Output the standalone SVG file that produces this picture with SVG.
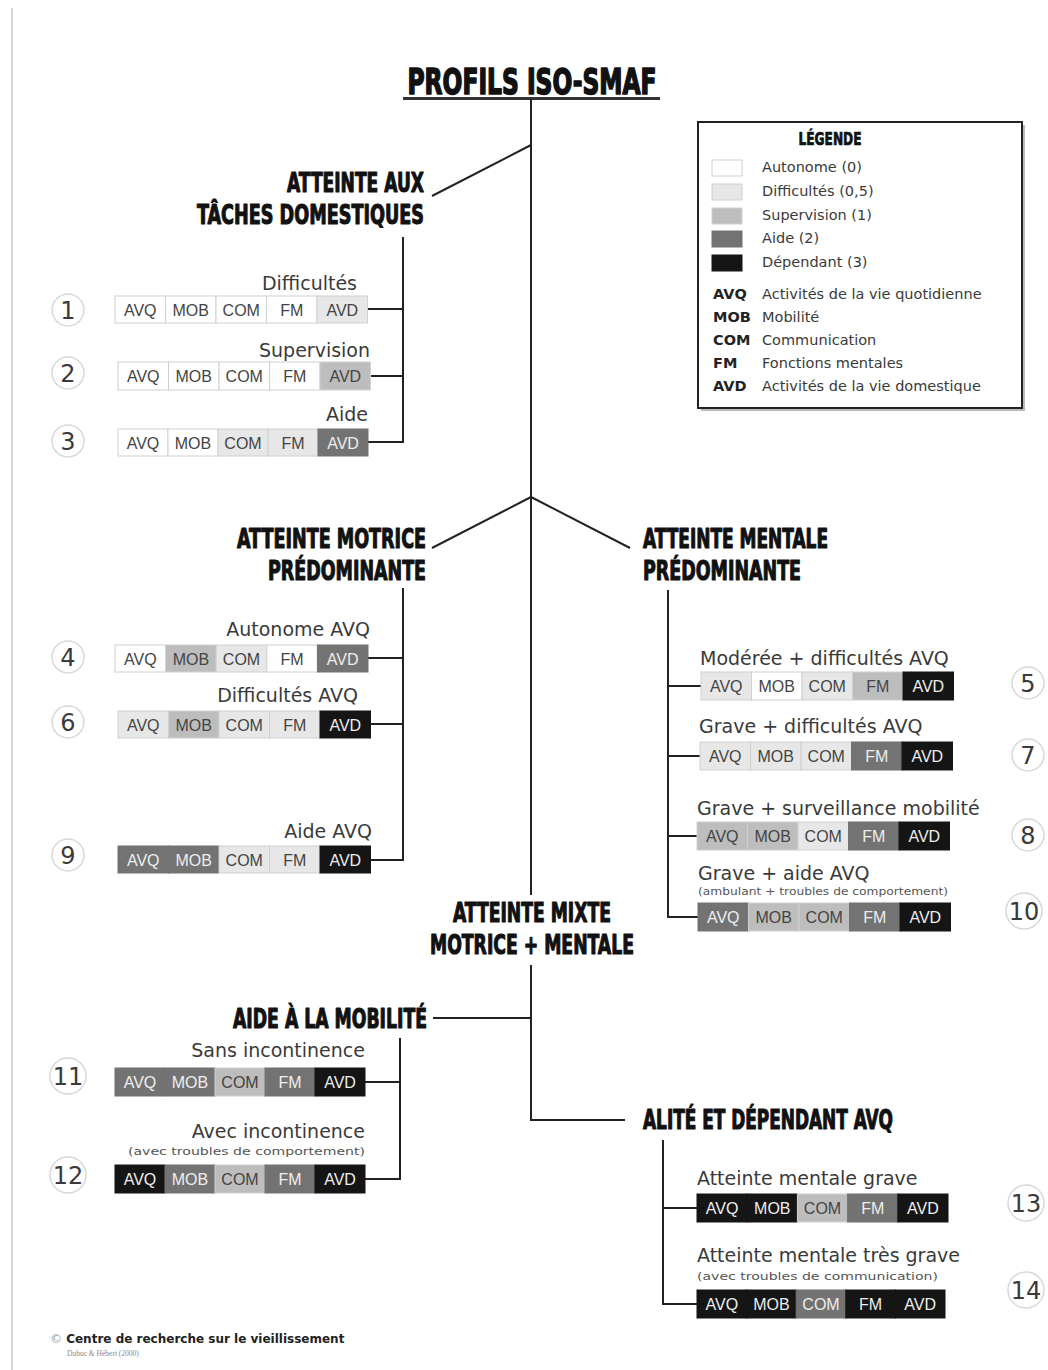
<svg xmlns="http://www.w3.org/2000/svg" width="1048" height="1370" viewBox="0 0 1048 1370">
  <style>
    .head { font-family: "DejaVu Sans Condensed", "DejaVu Sans", sans-serif; font-weight: bold; fill: #111; stroke: #111; stroke-width: 1.1px; stroke-linejoin: round; }
    .lbl { font-family: "DejaVu Sans", sans-serif; font-size: 19px; fill: #3a3a3a; }
    .sub { font-family: "DejaVu Sans", sans-serif; font-size: 11px; fill: #555; }
    .num { font-family: "DejaVu Sans", sans-serif; font-size: 24px; fill: #3a3a3a; text-anchor: middle; }
    .ring { fill: #fff; stroke: #d8d8d8; stroke-width: 1.5; }
    .cell { stroke: #d0d0d0; stroke-width: 1; }
    .c0 { fill: #ffffff; }
    .c1 { fill: #e7e7e7; }
    .c2 { fill: #bdbdbd; }
    .c3 { fill: #737373; stroke: #737373; }
    .c4 { fill: #151515; stroke: #151515; }
    .ct { font-family: "Liberation Sans", Arial, sans-serif; font-size: 16px; text-anchor: middle; }
    .td { fill: #444; }
    .tl { fill: #eeeeee; }
    .wire { fill: none; stroke: #222; stroke-width: 2; }
    .leg { font-family: "DejaVu Sans", sans-serif; font-size: 14.5px; fill: #3a3a3a; }
    .legb { font-family: "DejaVu Sans", sans-serif; font-size: 14.5px; font-weight: bold; fill: #222; }
  </style>

  <!-- page edge -->
  <line x1="12" y1="8" x2="12" y2="1370" stroke="#d6d6d6" stroke-width="2"/>

  <!-- title -->
  <g id="title">
    <text class="head" x="532" y="94" font-size="36" text-anchor="middle" textLength="249" lengthAdjust="spacingAndGlyphs" style="stroke-width:1.6px">PROFILS ISO-SMAF</text>
    <line x1="403" y1="98.5" x2="660" y2="98.5" stroke="#333" stroke-width="3"/>
  </g>

  <!-- connectors -->
  <g id="connectors" class="wire">
    <path d="M531 99 V895"/>
    <path d="M531 965 V1120 H625"/>
    <path d="M531 145 L432 196"/>
    <path d="M531 497 L432 548"/>
    <path d="M531 497 L630 548"/>
    <path d="M433 1018 H531"/>
    <!-- tâches domestiques -->
    <path d="M403 237 V442 H368"/>
    <path d="M367 309 H403"/>
    <path d="M370 376 H403"/>
    <!-- motrice -->
    <path d="M403 588 V860 H370"/>
    <path d="M368 658 H403"/>
    <path d="M370 724 H403"/>
    <!-- mentale -->
    <path d="M668 590 V917 H698"/>
    <path d="M668 686 H701"/>
    <path d="M668 756 H700"/>
    <path d="M668 836 H697"/>
    <!-- aide à la mobilité -->
    <path d="M400 1038 V1179 H365"/>
    <path d="M365 1082 H400"/>
    <!-- alité -->
    <path d="M663 1140 V1304 H697"/>
    <path d="M663 1208 H697"/>
  </g>

  <!-- legend -->
  <g id="legend">
    <rect x="701" y="125" width="324" height="286" fill="#bbb"/>
    <rect x="698" y="122" width="324" height="286" fill="#fff" stroke="#222" stroke-width="2"/>
    <text class="head" x="830" y="145" font-size="17" text-anchor="middle" textLength="63" lengthAdjust="spacingAndGlyphs" style="stroke-width:0.7px">LÉGENDE</text>
    <rect class="cell c0" x="712" y="160" width="30" height="16"/>
    <rect class="cell c1" x="712" y="184" width="30" height="16"/>
    <rect class="cell c2" x="712" y="208" width="30" height="16"/>
    <rect class="cell c3" x="712" y="231" width="30" height="16"/>
    <rect class="cell c4" x="712" y="255" width="30" height="16"/>
    <text class="leg" x="762" y="172">Autonome (0)</text>
    <text class="leg" x="762" y="196">Difficultés (0,5)</text>
    <text class="leg" x="762" y="220">Supervision (1)</text>
    <text class="leg" x="762" y="243">Aide (2)</text>
    <text class="leg" x="762" y="267">Dépendant (3)</text>
    <text class="legb" x="713" y="299">AVQ</text>
    <text class="legb" x="713" y="322">MOB</text>
    <text class="legb" x="713" y="345">COM</text>
    <text class="legb" x="713" y="368">FM</text>
    <text class="legb" x="713" y="391">AVD</text>
    <text class="leg" x="762" y="299">Activités de la vie quotidienne</text>
    <text class="leg" x="762" y="322">Mobilité</text>
    <text class="leg" x="762" y="345">Communication</text>
    <text class="leg" x="762" y="368">Fonctions mentales</text>
    <text class="leg" x="762" y="391">Activités de la vie domestique</text>
  </g>

  <!-- group headings -->
  <g id="grp-domestique">
    <text class="head" x="424" y="192" font-size="27" text-anchor="end" textLength="137" lengthAdjust="spacingAndGlyphs">ATTEINTE AUX</text>
    <text class="head" x="424" y="224" font-size="27" text-anchor="end" textLength="227" lengthAdjust="spacingAndGlyphs">TÂCHES DOMESTIQUES</text>
  </g>
  <g id="grp-motrice">
    <text class="head" x="426" y="548" font-size="27" text-anchor="end" textLength="189" lengthAdjust="spacingAndGlyphs">ATTEINTE MOTRICE</text>
    <text class="head" x="426" y="580" font-size="27" text-anchor="end" textLength="158" lengthAdjust="spacingAndGlyphs">PRÉDOMINANTE</text>
  </g>
  <g id="grp-mentale">
    <text class="head" x="643" y="548" font-size="27" textLength="185" lengthAdjust="spacingAndGlyphs">ATTEINTE MENTALE</text>
    <text class="head" x="643" y="580" font-size="27" textLength="158" lengthAdjust="spacingAndGlyphs">PRÉDOMINANTE</text>
  </g>
  <g id="grp-mixte">
    <text class="head" x="532" y="922" font-size="27" text-anchor="middle" textLength="158" lengthAdjust="spacingAndGlyphs">ATTEINTE MIXTE</text>
    <text class="head" x="532" y="954" font-size="27" text-anchor="middle" textLength="204" lengthAdjust="spacingAndGlyphs">MOTRICE + MENTALE</text>
  </g>
  <g id="grp-mobilite">
    <text class="head" x="427" y="1028" font-size="27" text-anchor="end" textLength="194" lengthAdjust="spacingAndGlyphs">AIDE À LA MOBILITÉ</text>
  </g>
  <g id="grp-alite">
    <text class="head" x="643" y="1129" font-size="27" textLength="250" lengthAdjust="spacingAndGlyphs">ALITÉ ET DÉPENDANT AVQ</text>
  </g>

  <!-- profile 1 -->
  <g id="profil-1">
    <text class="lbl" x="357" y="290" text-anchor="end">Difficultés</text>
    <circle class="ring" cx="68" cy="310" r="16"/><text class="num" x="68" y="319">1</text>
    <g transform="translate(115,296)">
      <rect class="cell c0" x="0" width="50.5" height="27"/><rect class="cell c0" x="50.5" width="50.5" height="27"/><rect class="cell c0" x="101" width="50.5" height="27"/><rect class="cell c0" x="151.5" width="50.5" height="27"/><rect class="cell c1" x="202" width="50.5" height="27"/>
      <text class="ct td" x="25.25" y="19.5">AVQ</text><text class="ct td" x="75.75" y="19.5">MOB</text><text class="ct td" x="126.25" y="19.5">COM</text><text class="ct td" x="176.75" y="19.5">FM</text><text class="ct td" x="227.25" y="19.5">AVD</text>
    </g>
  </g>

  <!-- profile 2 -->
  <g id="profil-2">
    <text class="lbl" x="370" y="357" text-anchor="end">Supervision</text>
    <circle class="ring" cx="68" cy="373" r="16"/><text class="num" x="68" y="382">2</text>
    <g transform="translate(118,362)">
      <rect class="cell c0" x="0" width="50.5" height="28"/><rect class="cell c0" x="50.5" width="50.5" height="28"/><rect class="cell c0" x="101" width="50.5" height="28"/><rect class="cell c0" x="151.5" width="50.5" height="28"/><rect class="cell c2" x="202" width="50.5" height="28"/>
      <text class="ct td" x="25.25" y="20">AVQ</text><text class="ct td" x="75.75" y="20">MOB</text><text class="ct td" x="126.25" y="20">COM</text><text class="ct td" x="176.75" y="20">FM</text><text class="ct td" x="227.25" y="20">AVD</text>
    </g>
  </g>

  <!-- profile 3 -->
  <g id="profil-3">
    <text class="lbl" x="368" y="421" text-anchor="end">Aide</text>
    <circle class="ring" cx="68" cy="441" r="16"/><text class="num" x="68" y="450">3</text>
    <g transform="translate(118,429)">
      <rect class="cell c0" x="0" width="50" height="27"/><rect class="cell c0" x="50" width="50" height="27"/><rect class="cell c1" x="100" width="50" height="27"/><rect class="cell c1" x="150" width="50" height="27"/><rect class="cell c3" x="200" width="50" height="27"/>
      <text class="ct td" x="25" y="19.5">AVQ</text><text class="ct td" x="75" y="19.5">MOB</text><text class="ct td" x="125" y="19.5">COM</text><text class="ct td" x="175" y="19.5">FM</text><text class="ct tl" x="225" y="19.5">AVD</text>
    </g>
  </g>

  <!-- profile 4 -->
  <g id="profil-4">
    <text class="lbl" x="370" y="636" text-anchor="end">Autonome AVQ</text>
    <circle class="ring" cx="68" cy="657" r="16"/><text class="num" x="68" y="666">4</text>
    <g transform="translate(115,645)">
      <rect class="cell c0" x="0" width="50.6" height="27"/><rect class="cell c2" x="50.6" width="50.6" height="27"/><rect class="cell c1" x="101.2" width="50.6" height="27"/><rect class="cell c0" x="151.8" width="50.6" height="27"/><rect class="cell c3" x="202.4" width="50.6" height="27"/>
      <text class="ct td" x="25.3" y="19.5">AVQ</text><text class="ct td" x="75.9" y="19.5">MOB</text><text class="ct td" x="126.5" y="19.5">COM</text><text class="ct td" x="177.1" y="19.5">FM</text><text class="ct tl" x="227.7" y="19.5">AVD</text>
    </g>
  </g>

  <!-- profile 6 -->
  <g id="profil-6">
    <text class="lbl" x="358" y="702" text-anchor="end">Difficultés AVQ</text>
    <circle class="ring" cx="68" cy="722" r="16"/><text class="num" x="68" y="731">6</text>
    <g transform="translate(118,711)">
      <rect class="cell c1" x="0" width="50.5" height="27"/><rect class="cell c2" x="50.5" width="50.5" height="27"/><rect class="cell c1" x="101" width="50.5" height="27"/><rect class="cell c1" x="151.5" width="50.5" height="27"/><rect class="cell c4" x="202" width="50.5" height="27"/>
      <text class="ct td" x="25.25" y="19.5">AVQ</text><text class="ct td" x="75.75" y="19.5">MOB</text><text class="ct td" x="126.25" y="19.5">COM</text><text class="ct td" x="176.75" y="19.5">FM</text><text class="ct tl" x="227.25" y="19.5">AVD</text>
    </g>
  </g>

  <!-- profile 9 -->
  <g id="profil-9">
    <text class="lbl" x="372" y="838" text-anchor="end">Aide AVQ</text>
    <circle class="ring" cx="68" cy="855" r="16"/><text class="num" x="68" y="864">9</text>
    <g transform="translate(118,846)">
      <rect class="cell c3" x="0" width="50.5" height="27"/><rect class="cell c3" x="50.5" width="50.5" height="27"/><rect class="cell c1" x="101" width="50.5" height="27"/><rect class="cell c1" x="151.5" width="50.5" height="27"/><rect class="cell c4" x="202" width="50.5" height="27"/>
      <text class="ct tl" x="25.25" y="19.5">AVQ</text><text class="ct tl" x="75.75" y="19.5">MOB</text><text class="ct td" x="126.25" y="19.5">COM</text><text class="ct td" x="176.75" y="19.5">FM</text><text class="ct tl" x="227.25" y="19.5">AVD</text>
    </g>
  </g>

  <!-- profile 5 -->
  <g id="profil-5">
    <text class="lbl" x="700" y="665">Modérée + difficultés AVQ</text>
    <circle class="ring" cx="1028" cy="683" r="16"/><text class="num" x="1028" y="692">5</text>
    <g transform="translate(701,672)">
      <rect class="cell c1" x="0" width="50.5" height="28"/><rect class="cell c0" x="50.5" width="50.5" height="28"/><rect class="cell c1" x="101" width="50.5" height="28"/><rect class="cell c2" x="151.5" width="50.5" height="28"/><rect class="cell c4" x="202" width="50.5" height="28"/>
      <text class="ct td" x="25.25" y="20">AVQ</text><text class="ct td" x="75.75" y="20">MOB</text><text class="ct td" x="126.25" y="20">COM</text><text class="ct td" x="176.75" y="20">FM</text><text class="ct tl" x="227.25" y="20">AVD</text>
    </g>
  </g>

  <!-- profile 7 -->
  <g id="profil-7">
    <text class="lbl" x="699" y="733">Grave + difficultés AVQ</text>
    <circle class="ring" cx="1028" cy="755" r="16"/><text class="num" x="1028" y="764">7</text>
    <g transform="translate(700,742)">
      <rect class="cell c1" x="0" width="50.5" height="28"/><rect class="cell c1" x="50.5" width="50.5" height="28"/><rect class="cell c1" x="101" width="50.5" height="28"/><rect class="cell c3" x="151.5" width="50.5" height="28"/><rect class="cell c4" x="202" width="50.5" height="28"/>
      <text class="ct td" x="25.25" y="20">AVQ</text><text class="ct td" x="75.75" y="20">MOB</text><text class="ct td" x="126.25" y="20">COM</text><text class="ct tl" x="176.75" y="20">FM</text><text class="ct tl" x="227.25" y="20">AVD</text>
    </g>
  </g>

  <!-- profile 8 -->
  <g id="profil-8">
    <text class="lbl" x="697" y="815">Grave + surveillance mobilité</text>
    <circle class="ring" cx="1028" cy="835" r="16"/><text class="num" x="1028" y="844">8</text>
    <g transform="translate(697,822)">
      <rect class="cell c2" x="0" width="50.5" height="28"/><rect class="cell c2" x="50.5" width="50.5" height="28"/><rect class="cell c1" x="101" width="50.5" height="28"/><rect class="cell c3" x="151.5" width="50.5" height="28"/><rect class="cell c4" x="202" width="50.5" height="28"/>
      <text class="ct td" x="25.25" y="20">AVQ</text><text class="ct td" x="75.75" y="20">MOB</text><text class="ct td" x="126.25" y="20">COM</text><text class="ct tl" x="176.75" y="20">FM</text><text class="ct tl" x="227.25" y="20">AVD</text>
    </g>
  </g>

  <!-- profile 10 -->
  <g id="profil-10">
    <text class="lbl" x="698" y="880">Grave + aide AVQ</text>
    <text class="sub" x="698" y="895" textLength="250" lengthAdjust="spacingAndGlyphs">(ambulant + troubles de comportement)</text>
    <circle class="ring" cx="1024" cy="911" r="18"/><text class="num" x="1024" y="920">10</text>
    <g transform="translate(698,903)">
      <rect class="cell c3" x="0" width="50.5" height="28"/><rect class="cell c2" x="50.5" width="50.5" height="28"/><rect class="cell c2" x="101" width="50.5" height="28"/><rect class="cell c3" x="151.5" width="50.5" height="28"/><rect class="cell c4" x="202" width="50.5" height="28"/>
      <text class="ct tl" x="25.25" y="20">AVQ</text><text class="ct td" x="75.75" y="20">MOB</text><text class="ct td" x="126.25" y="20">COM</text><text class="ct tl" x="176.75" y="20">FM</text><text class="ct tl" x="227.25" y="20">AVD</text>
    </g>
  </g>

  <!-- profile 11 -->
  <g id="profil-11">
    <text class="lbl" x="365" y="1057" text-anchor="end">Sans incontinence</text>
    <circle class="ring" cx="68" cy="1076" r="18"/><text class="num" x="68" y="1085">11</text>
    <g transform="translate(115,1068)">
      <rect class="cell c3" x="0" width="50" height="28"/><rect class="cell c3" x="50" width="50" height="28"/><rect class="cell c2" x="100" width="50" height="28"/><rect class="cell c3" x="150" width="50" height="28"/><rect class="cell c4" x="200" width="50" height="28"/>
      <text class="ct tl" x="25" y="20">AVQ</text><text class="ct tl" x="75" y="20">MOB</text><text class="ct td" x="125" y="20">COM</text><text class="ct tl" x="175" y="20">FM</text><text class="ct tl" x="225" y="20">AVD</text>
    </g>
  </g>

  <!-- profile 12 -->
  <g id="profil-12">
    <text class="lbl" x="365" y="1138" text-anchor="end">Avec incontinence</text>
    <text class="sub" x="365" y="1155" text-anchor="end" textLength="237" lengthAdjust="spacingAndGlyphs">(avec troubles de comportement)</text>
    <circle class="ring" cx="68" cy="1175" r="18"/><text class="num" x="68" y="1184">12</text>
    <g transform="translate(115,1165)">
      <rect class="cell c4" x="0" width="50" height="28"/><rect class="cell c3" x="50" width="50" height="28"/><rect class="cell c2" x="100" width="50" height="28"/><rect class="cell c3" x="150" width="50" height="28"/><rect class="cell c4" x="200" width="50" height="28"/>
      <text class="ct tl" x="25" y="20">AVQ</text><text class="ct tl" x="75" y="20">MOB</text><text class="ct td" x="125" y="20">COM</text><text class="ct tl" x="175" y="20">FM</text><text class="ct tl" x="225" y="20">AVD</text>
    </g>
  </g>

  <!-- profile 13 -->
  <g id="profil-13">
    <text class="lbl" x="697" y="1185">Atteinte mentale grave</text>
    <circle class="ring" cx="1026" cy="1203" r="18"/><text class="num" x="1026" y="1212">13</text>
    <g transform="translate(697,1194)">
      <rect class="cell c4" x="0" width="50.2" height="28"/><rect class="cell c4" x="50.2" width="50.2" height="28"/><rect class="cell c2" x="100.4" width="50.2" height="28"/><rect class="cell c3" x="150.6" width="50.2" height="28"/><rect class="cell c4" x="200.8" width="50.2" height="28"/>
      <text class="ct tl" x="25.1" y="20">AVQ</text><text class="ct tl" x="75.3" y="20">MOB</text><text class="ct td" x="125.5" y="20">COM</text><text class="ct tl" x="175.7" y="20">FM</text><text class="ct tl" x="225.9" y="20">AVD</text>
    </g>
  </g>

  <!-- profile 14 -->
  <g id="profil-14">
    <text class="lbl" x="697" y="1262">Atteinte mentale très grave</text>
    <text class="sub" x="697" y="1280" textLength="241" lengthAdjust="spacingAndGlyphs">(avec troubles de communication)</text>
    <circle class="ring" cx="1026" cy="1290" r="18"/><text class="num" x="1026" y="1299">14</text>
    <g transform="translate(697,1290)">
      <rect class="cell c4" x="0" width="49.6" height="28"/><rect class="cell c4" x="49.6" width="49.6" height="28"/><rect class="cell c3" x="99.2" width="49.6" height="28"/><rect class="cell c4" x="148.8" width="49.6" height="28"/><rect class="cell c4" x="198.4" width="49.6" height="28"/>
      <text class="ct tl" x="24.8" y="20">AVQ</text><text class="ct tl" x="74.4" y="20">MOB</text><text class="ct tl" x="124" y="20">COM</text><text class="ct tl" x="173.6" y="20">FM</text><text class="ct tl" x="223.2" y="20">AVD</text>
    </g>
  </g>

  <!-- credit -->
  <g id="credit">
    <text x="50" y="1343" font-family="DejaVu Sans, sans-serif" font-size="12" font-weight="bold" fill="#222"><tspan fill="#999" font-weight="normal">©</tspan> Centre de recherche sur le vieillissement</text>
    <text x="67" y="1356" font-family="Liberation Serif, serif" font-size="7.5" fill="#888">Dubuc &amp; Hébert (2000)</text>
  </g>
</svg>
